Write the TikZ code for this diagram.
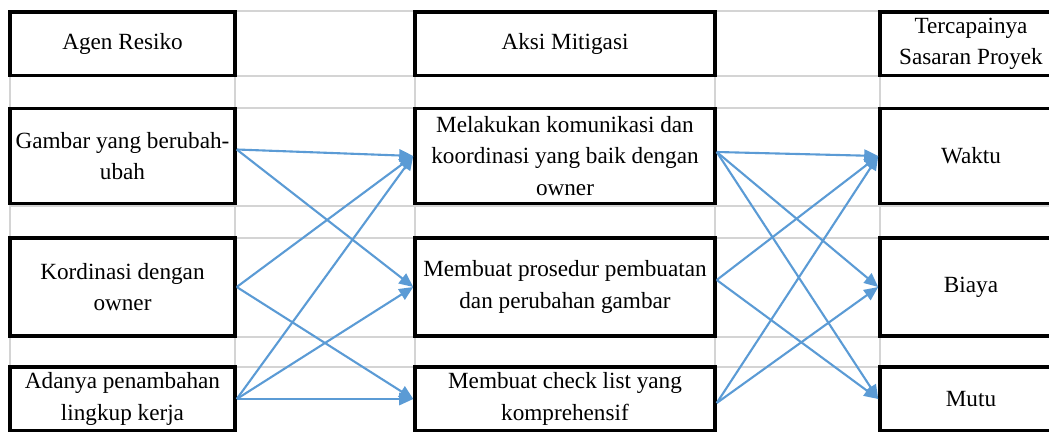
\documentclass[tikz,border=0pt]{standalone}
\usepackage{fontspec}
\setmainfont{Liberation Serif}
\usepackage{xcolor}
\usetikzlibrary{arrows.meta}
\definecolor{lineblue}{HTML}{5B9BD5}
\definecolor{gridgray}{HTML}{D4D4D4}

\begin{document}
\begin{tikzpicture}[
  x=0.02cm, y=-0.02cm,
  every node/.style={draw, line width=2pt, fill=white, align=center, inner sep=0pt, font=\fontsize{13.2}{17.8}\selectfont},
  agent/.style={minimum width=4.5cm},
  action/.style={minimum width=6cm},
  goal/.style={minimum width=3.64cm},
  head/.style={minimum height=1.27cm},
  rowa/.style={minimum height=1.9cm},
  rowb/.style={minimum height=1.96cm},
  rowc/.style={minimum height=1.28cm},
  grid/.style={draw=gridgray, line width=0.7pt},
  arr/.style={-{Triangle[length=8pt,width=7pt]}, draw=lineblue, line width=1.2pt}
]
  \useasboundingbox (0,0) rectangle (1049,432);
  \clip (0,0) rectangle (1049,432);

  % sheet grid
  \foreach \gy in {11,76,108,206,238,337,367}
    \draw[grid] (10,\gy) -- (1049,\gy);
  \foreach \gx in {10,235,415,715,880}
    \draw[grid] (\gx,11) -- (\gx,432);

  % headers
  \node[agent, head] (agen) at (122.5,44) {Agen Resiko};
  \node[action, head] (aksi) at (565,44) {Aksi Mitigasi};
  \node[goal, head] (sasaran) at (971,44) {Tercapainya\\Sasaran Proyek};

  % risk agents
  \node[agent, rowa] (gambar) at (122.5,156) {Gambar yang berubah-\\ubah};
  \node[agent, rowb] (kordinasi) at (122.5,287) {Kordinasi dengan\\owner};
  \node[agent, rowc] (adanya) at (122.5,399) {Adanya penambahan\\lingkup kerja};

  % mitigation
  \node[action, rowa] (melakukan) at (565,156) {Melakukan komunikasi dan\\koordinasi yang baik dengan\\owner};
  \node[action, rowb] (prosedur) at (565,287) {Membuat prosedur pembuatan\\dan perubahan gambar};
  \node[action, rowc] (checklist) at (565,399) {Membuat check list yang\\komprehensif};

  % targets
  \node[goal, rowa] (waktu) at (971,156) {Waktu};
  \node[goal, rowb] (biaya) at (971,287) {Biaya};
  \node[goal, rowc] (mutu) at (971,399) {Mutu};

  \draw[arr] ([yshift=0.13cm]gambar.east) -- (melakukan.west);
  \draw[arr] ([yshift=0.13cm]gambar.east) -- (prosedur.west);
  \draw[arr] (kordinasi.east) -- (melakukan.west);
  \draw[arr] (kordinasi.east) -- (checklist.west);
  \draw[arr] (adanya.east) -- (melakukan.west);
  \draw[arr] (adanya.east) -- (prosedur.west);
  \draw[arr] (adanya.east) -- (checklist.west);

  \draw[arr] ([yshift=0.08cm]melakukan.east) -- (waktu.west);
  \draw[arr] ([yshift=0.08cm]melakukan.east) -- (biaya.west);
  \draw[arr] ([yshift=0.08cm]melakukan.east) -- (mutu.west);
  \draw[arr] ([yshift=0.14cm]prosedur.east) -- (waktu.west);
  \draw[arr] ([yshift=0.14cm]prosedur.east) -- (mutu.west);
  \draw[arr] ([yshift=-0.08cm]checklist.east) -- (waktu.west);
  \draw[arr] ([yshift=-0.08cm]checklist.east) -- (biaya.west);
\end{tikzpicture}
\end{document}
